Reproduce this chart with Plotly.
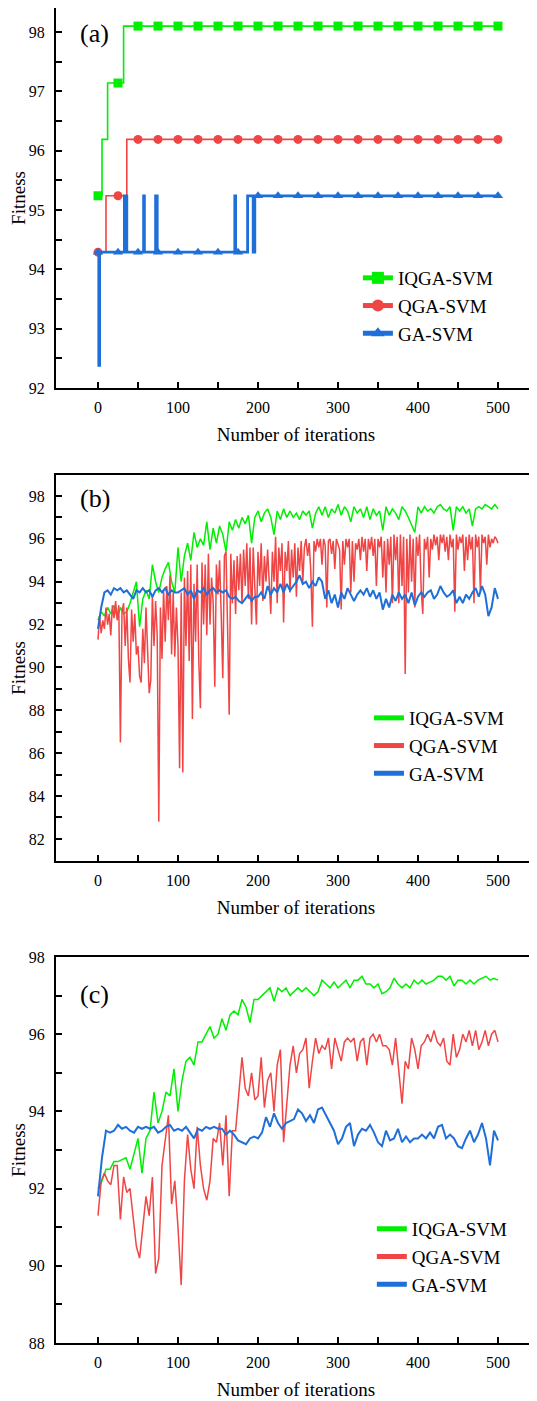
import numpy as np
import plotly.graph_objects as go

# ---------------- data ----------------
SERIES = ["IQGA-SVM", "QGA-SVM", "GA-SVM"]
COLORS = ["#00EE00", "#F04545", "#1F6FD8"]

# Panel (a): step curves (change points)
A_IQGA_X = [0, 5, 12, 32, 500]
A_IQGA_Y = [95.24, 96.19, 97.14, 98.10, 98.10]
A_QGA_X = [0, 10, 36, 500]
A_QGA_Y = [94.29, 95.24, 96.19, 96.19]
A_GA_X = [0, 1, 2, 33, 36, 57, 58, 72, 74, 171, 172, 187, 194, 196, 500]
A_GA_Y = [94.29, 92.38, 94.29, 95.24, 94.29, 95.24, 94.29, 95.24, 94.29,
          95.24, 94.29, 95.24, 94.29, 95.24, 95.24]
A_MARKER_X = list(range(0, 501, 25))

# Panel (b)
B_QGA_X = list(range(0, 501, 2))
B_QGA_Y = [
    91.3, 92.4, 91.6, 92.2, 91.8, 92.8, 92.0, 92.5, 91.5, 92.9,
    92.3, 93.1, 92.2, 92.9, 86.5, 92.6, 93.0, 91.0, 92.8, 90.4,
    89.3, 92.7, 91.2, 92.5, 90.6, 91.0, 89.6, 89.3, 91.8, 90.2,
    92.8, 90.2, 88.8, 89.4, 93.4, 91.0, 93.1, 91.5, 82.8, 92.8,
    90.4, 93.6, 91.2, 93.8, 92.2, 94.3, 90.6, 93.5, 90.5, 92.8,
    91.0, 85.3, 93.5, 85.1, 94.2, 91.0, 94.5, 90.3, 94.8, 87.6,
    93.9, 91.2, 94.8, 90.3, 88.1, 94.9, 92.0, 94.8, 91.5, 95.3,
    92.0, 94.2, 93.0, 89.1, 94.8, 93.4, 95.0, 92.5, 89.5, 95.2,
    95.4, 91.8, 87.8, 95.3, 93.0, 95.0, 92.5, 95.2, 93.6, 95.3,
    93.0, 95.5, 93.8, 95.8, 93.2, 95.6, 92.0, 95.6, 93.5, 92.0,
    95.4, 93.8, 95.8, 93.1, 95.2, 94.0, 95.5, 93.6, 92.5, 95.4,
    94.0, 96.1, 93.0, 95.6, 94.5, 95.8, 92.1, 95.4, 94.5, 95.9,
    93.5, 95.5, 94.2, 95.8, 93.3, 95.6, 94.5, 95.9, 94.0, 95.6,
    96.0, 95.2, 95.8, 94.5, 91.9, 95.9, 95.4, 96.0, 95.6, 96.0,
    94.8, 96.0, 95.7, 92.8, 95.9, 96.0, 95.3, 95.9, 94.6, 96.0,
    95.8, 95.5, 92.7, 95.9, 94.8, 96.0, 95.6, 96.0, 93.5, 95.9,
    94.0, 95.8, 95.5, 96.0, 95.0, 96.1, 95.4, 96.0, 94.5, 96.0,
    95.5, 96.1, 95.2, 96.0, 93.8, 96.0, 95.6, 96.1, 94.2, 95.9,
    93.5, 96.0, 94.8, 96.1, 93.0, 96.2, 95.0, 96.1, 93.0, 96.2,
    93.8, 96.1, 89.7, 96.0, 93.5, 96.2, 94.0, 96.0, 92.8, 96.1,
    95.2, 96.2, 93.6, 92.5, 96.0, 95.5, 96.1, 94.2, 96.0, 95.5,
    96.2, 95.7, 96.1, 95.0, 96.2, 95.8, 96.2, 95.4, 96.1, 95.0,
    96.2, 95.6, 96.0, 92.6, 96.2, 95.5, 96.1, 95.8, 96.2, 94.5,
    96.1, 95.0, 96.2, 95.5, 96.1, 93.0, 96.2, 95.6, 96.1, 93.5,
    96.2, 95.8, 96.1, 94.8, 96.2, 95.6, 96.0, 95.8, 96.1, 96.0,
    95.8,
]
B_IQGA_X = list(range(0, 501, 4))
B_IQGA_Y = [
    92.2, 92.6, 92.4, 92.8, 92.5, 92.9, 92.3, 92.8, 92.5, 92.6,
    93.0, 93.5, 94.0, 91.9, 93.2, 93.6, 93.2, 94.8, 94.0, 93.5,
    94.2, 94.6, 94.9, 94.0, 93.5, 95.6, 94.0, 95.2, 95.8, 95.0,
    96.3, 95.6, 96.0, 95.7, 96.8, 95.5, 96.5, 95.8, 96.6, 96.2,
    95.4, 96.8, 96.4, 96.9, 96.5, 97.0, 96.7, 97.1, 95.8, 97.0,
    97.3, 96.8, 97.2, 97.4, 97.0, 96.2, 97.3, 96.9, 97.4, 97.0,
    97.3, 97.0, 97.2, 96.9, 97.3, 97.1, 97.3, 96.5, 97.2, 97.5,
    97.1, 97.5, 97.0, 97.4, 97.2, 97.6, 97.1, 97.5, 97.3, 96.8,
    97.5, 97.2, 97.4, 97.0, 97.5, 96.9, 97.4, 97.1, 97.3, 96.4,
    97.5, 97.1, 97.4, 97.2, 96.9, 97.5, 97.3, 97.0, 96.6, 96.3,
    97.5, 97.2, 97.5, 97.3, 97.4, 97.2, 97.5, 97.6, 97.4, 97.3,
    97.5, 96.4, 97.5, 97.3, 97.5, 97.2, 97.4, 96.6, 97.4, 97.5,
    97.4, 97.6, 97.5, 97.4, 97.6, 97.4,
]
B_GA_X = list(range(0, 501, 4))
B_GA_Y = [
    91.8, 92.8, 93.5, 93.6, 93.4, 93.7, 93.6, 93.7, 93.5, 93.6,
    93.4, 93.2, 93.6, 93.5, 93.7, 93.5, 93.6, 93.3, 93.6, 93.7,
    93.5, 93.7, 93.4, 93.6, 93.5, 93.5, 93.6, 93.7, 93.4, 93.6,
    93.2, 93.6, 93.5, 93.7, 93.4, 93.6, 93.7, 93.5, 93.6, 93.5,
    93.6, 93.3, 93.2, 93.3, 93.1, 93.0, 93.2, 93.4, 93.1, 93.3,
    93.3, 93.5, 93.2, 93.8, 93.4, 93.7, 93.5, 93.9, 93.5, 93.9,
    93.6, 93.8, 94.0, 94.3, 93.9, 94.0, 93.7, 94.0, 93.8, 94.2,
    94.0, 93.2, 93.6, 93.0, 93.4, 92.8, 93.5, 93.2, 93.7, 93.4,
    93.1, 93.4, 93.6, 93.4, 93.7, 93.3, 93.6, 93.2, 93.5, 92.7,
    93.2, 92.8, 93.4, 93.1, 93.5, 93.2, 93.4, 93.0, 93.5, 92.9,
    93.3, 93.5, 93.3, 93.5, 93.6, 93.2, 93.4, 93.8, 93.5, 93.3,
    93.4, 93.6, 93.0, 93.3, 93.0, 93.4, 93.2, 93.5, 93.7, 93.3,
    93.8, 93.4, 92.4, 92.8, 93.7, 93.2,
]

# Panel (c)
C_IQGA_X = list(range(0, 501, 5))
C_IQGA_Y = [
    92.0, 92.2, 92.5, 92.5, 92.7, 92.7, 92.75, 92.8, 92.5, 92.9,
    93.3, 92.4, 93.3, 93.5, 94.5, 93.7, 94.0, 94.5, 94.4, 95.1,
    94.0, 94.8, 95.3, 95.4, 95.2, 95.8, 95.8, 96.0, 96.2, 95.9,
    96.0, 96.4, 96.1, 96.5, 96.6, 96.5, 96.9, 96.7, 96.3, 96.9,
    96.9, 97.0, 97.1, 97.2, 96.85, 97.2, 97.1, 97.2, 97.0, 97.1,
    97.2, 97.1, 97.2, 97.1, 97.0, 97.1, 97.4, 97.3, 97.2, 97.35,
    97.2, 97.3, 97.4, 97.2, 97.4, 97.4, 97.5, 97.3, 97.3, 97.2,
    97.3, 97.05, 97.1, 97.2, 97.45, 97.3, 97.2, 97.3, 97.2, 97.4,
    97.3, 97.4, 97.3, 97.35, 97.4, 97.5, 97.5, 97.4, 97.5, 97.25,
    97.4, 97.4, 97.3, 97.4, 97.3, 97.4, 97.45, 97.5, 97.4, 97.45,
    97.4,
]
C_QGA_X = list(range(0, 501, 4))
C_QGA_Y = [
    91.3, 92.2, 92.4, 92.2, 92.1, 92.6, 92.6, 91.2, 92.3, 91.9,
    92.0, 91.2, 90.5, 90.2, 91.0, 91.8, 91.3, 92.3, 89.8, 90.2,
    92.6, 93.3, 93.9, 91.6, 92.2, 91.0, 89.5, 92.2, 93.4, 92.5,
    92.0, 93.6, 92.6, 92.0, 91.7, 92.2, 93.3, 93.2, 93.7, 92.6,
    93.9, 91.8, 93.5, 93.5, 94.5, 95.4, 94.6, 94.4, 95.0, 94.3,
    94.4, 95.4, 94.1, 94.8, 95.0, 94.0, 95.2, 95.6, 93.2, 94.2,
    95.2, 95.7, 95.0, 95.5, 95.6, 95.9, 94.6, 95.3, 95.9, 95.5,
    95.7, 95.6, 95.9, 95.1, 95.9, 95.6, 95.3, 95.8, 95.9, 95.8,
    95.9, 95.3, 95.8, 95.9, 95.2, 95.9, 96.0, 95.8, 96.0, 95.7,
    95.7, 95.6, 95.2, 95.9, 95.0, 94.2, 95.3, 95.1, 95.9, 95.6,
    95.1, 95.7, 95.8, 96.0, 95.8, 96.1, 95.8, 95.7, 95.9, 95.3,
    95.2, 96.0, 95.4, 95.6, 96.0, 95.8, 96.1, 95.7, 96.1, 95.6,
    95.8, 96.1, 95.7, 96.0, 96.1, 95.8,
]
C_GA_X = list(range(0, 501, 5))
C_GA_Y = [
    91.8, 92.8, 93.5, 93.45, 93.5, 93.65, 93.55, 93.6, 93.5, 93.45,
    93.6, 93.55, 93.6, 93.55, 93.6, 93.45, 93.5, 93.6, 93.65, 93.5,
    93.55, 93.5, 93.6, 93.45, 93.3, 93.55, 93.5, 93.6, 93.55, 93.6,
    93.55, 93.55, 93.4, 93.5, 93.4, 93.25, 93.2, 93.15, 93.3, 93.35,
    93.3, 93.45, 93.85, 93.6, 93.95, 93.7, 93.55, 93.7, 93.75, 93.8,
    94.05, 93.95, 93.75, 93.9, 93.7, 94.05, 94.1, 93.9, 93.7, 93.5,
    93.15, 93.3, 93.6, 93.7, 93.1, 93.4, 93.55, 93.5, 93.65, 93.45,
    93.2, 93.1, 93.5, 93.25, 93.3, 93.55, 93.2, 93.35, 93.2, 93.3,
    93.3, 93.4, 93.3, 93.45, 93.3, 93.6, 93.65, 93.3, 93.4, 93.3,
    93.1, 93.05, 93.3, 93.5, 93.2, 93.4, 93.7, 93.3, 92.6, 93.5,
    93.25,
]

X_TICKS = [0, 100, 200, 300, 400, 500]
A_Y_TICKS = [92, 93, 94, 95, 96, 97, 98]
B_Y_TICKS = [82, 84, 86, 88, 90, 92, 94, 96, 98]
C_Y_TICKS = [88, 90, 92, 94, 96, 98]
PANEL_LABELS = ["(a)", "(b)", "(c)"]
X_TITLE = "Number of iterations"
Y_TITLE = "Fitness"

# ---------------- figure ----------------
FONT = "Liberation Serif, Times New Roman, serif"
W, H = 537, 1401
OFF = 8  # page offset of the plot div
ML, MR, MT, MB = 56 - OFF, 9, 0, 66
PH = H - MT - MB


def py(screen_y):
    """paper y from a screen pixel row"""
    return (H - MB - (screen_y - OFF)) / PH


domains = [[py(388), 1.0], [py(861), py(475)], [0.0, py(957)]]
yranges = [[92, 98.405], [80.97, 98.98], [88, 98]]
yticks = [A_Y_TICKS, B_Y_TICKS, C_Y_TICKS]
yminor = [0.5, 1, 1]
label_y = [py(33), py(499), py(994)]
legend_pos = [(0.629, py(259)), (0.652, py(699)), (0.658, py(1210))]

fig = go.Figure()

# panel (a)
a_sets = [(A_IQGA_X, A_IQGA_Y, "square"), (A_QGA_X, A_QGA_Y, "circle"),
          (A_GA_X, A_GA_Y, "triangle-up")]
a_widths = [1.6, 1.6, 2.8]
for i, (sx, sy, sym) in enumerate(a_sets):
    fig.add_trace(go.Scatter(x=sx, y=sy, mode="lines", line_shape="hv",
                             line=dict(color=COLORS[i], width=a_widths[i]),
                             showlegend=False, xaxis="x", yaxis="y"))
    idx = np.searchsorted(np.array(sx), np.array(A_MARKER_X), side="right") - 1
    my = [sy[k] for k in idx]
    fig.add_trace(go.Scatter(x=A_MARKER_X, y=my, mode="markers",
                             marker=dict(symbol=sym, size=9, color=COLORS[i]),
                             showlegend=False, xaxis="x", yaxis="y"))
    fig.add_trace(go.Scatter(x=[None], y=[None], mode="lines+markers", name=SERIES[i],
                             line=dict(color=COLORS[i], width=a_widths[i]),
                             marker=dict(symbol=sym, size=9, color=COLORS[i]),
                             xaxis="x", yaxis="y", legend="legend"))

# panels (b) and (c)
bc_sets = [
    [(B_IQGA_X, B_IQGA_Y), (B_QGA_X, B_QGA_Y), (B_GA_X, B_GA_Y)],
    [(C_IQGA_X, C_IQGA_Y), (C_QGA_X, C_QGA_Y), (C_GA_X, C_GA_Y)],
]
bc_widths = [1.5, 1.5, 2.0]
for p, sets in enumerate(bc_sets):
    ax = str(p + 2)
    for i, (sx, sy) in enumerate(sets):
        fig.add_trace(go.Scatter(x=sx, y=sy, mode="lines", name=SERIES[i],
                                 line=dict(color=COLORS[i], width=bc_widths[i]),
                                 xaxis="x" + ax, yaxis="y" + ax,
                                 legend="legend" + ax))

layout = dict(
    width=W, height=H,
    margin=dict(l=ML, r=MR, t=MT, b=MB, autoexpand=False),
    paper_bgcolor="white", plot_bgcolor="white",
    font=dict(family=FONT, color="black", size=16),
    annotations=[], shapes=[],
)

for p in range(3):
    s = "" if p == 0 else str(p + 1)
    layout["xaxis" + s] = dict(
        domain=[0, 1], anchor="y" + s, range=[-52.5, 547.5], automargin=False,
        tickvals=X_TICKS, ticks="inside", ticklen=6, tickwidth=1.5, tickcolor="black",
        minor=dict(tickvals=[50, 150, 250, 350, 450], ticks="inside", ticklen=6,
                   tickwidth=1.5, tickcolor="black"),
        showline=True, linewidth=2, linecolor="black", mirror=True,
        showgrid=False, zeroline=False,
        tickfont=dict(family=FONT, size=16), ticklabelstandoff=4,
        title=dict(text=X_TITLE, font=dict(family=FONT, size=19), standoff=12),
    )
    layout["yaxis" + s] = dict(
        domain=domains[p], anchor="x" + s, range=yranges[p], automargin=False,
        tickvals=yticks[p], ticks="inside", ticklen=6, tickwidth=1.5, tickcolor="black",
        minor=dict(dtick=yminor[p], ticks="inside", ticklen=6, tickwidth=1.5,
                   tickcolor="black"),
        showline=True, linewidth=2, linecolor="black", mirror=False,
        showgrid=False, zeroline=False,
        tickfont=dict(family=FONT, size=16), ticklabelstandoff=6,
        title=dict(text=Y_TITLE, font=dict(family=FONT, size=19), standoff=6),
    )
    layout["legend" + s] = dict(
        x=legend_pos[p][0], y=legend_pos[p][1], xanchor="left", yanchor="top",
        font=dict(family=FONT, size=19), bgcolor="rgba(0,0,0,0)",
        tracegroupgap=0, itemsizing="constant",
    )
    layout["annotations"].append(dict(
        text=PANEL_LABELS[p], x=0.081, y=label_y[p], xref="paper", yref="paper",
        xanchor="center", yanchor="middle", showarrow=False,
        font=dict(family=FONT, size=26, color="black")))
    layout["shapes"].append(dict(
        type="line", xref="x" + s + " domain", yref="y" + s + " domain",
        x0=1, x1=1, y0=0, y1=1, line=dict(color="black", width=1)))

fig.update_layout(**layout)
fig.write_html("out.html")
